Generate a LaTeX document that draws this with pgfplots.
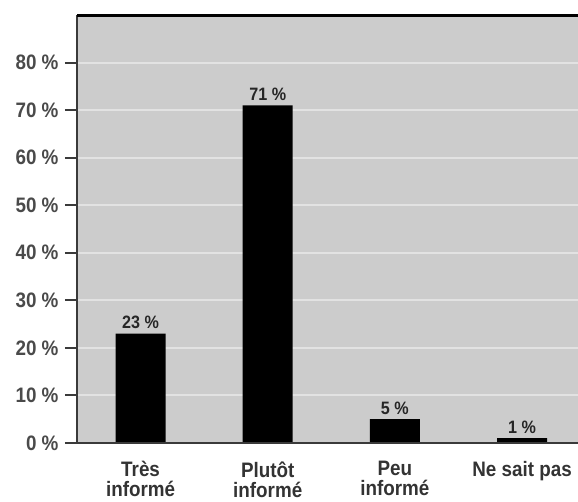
\documentclass[border=0pt]{standalone}
\usepackage{fontspec}
\setmainfont{Liberation Sans}[FakeStretch=0.9]
\usepackage{pgfplots}
\pgfplotsset{compat=1.18}
\definecolor{bg}{HTML}{CCCCCC}
\definecolor{grid}{HTML}{E2E2E2}
\definecolor{axisc}{HTML}{3A3A3A}
\definecolor{tickc}{HTML}{4A4A4A}
\begin{document}
\begin{tikzpicture}
\useasboundingbox (0,0) rectangle (578bp,502bp);
\begin{axis}[
  at={(77bp,59bp)}, anchor=south west,
  scale only axis, width=501bp, height=428bp,
  xmin=-0.5, xmax=3.44, ymin=0, ymax=90,
  axis background/.style={fill=bg},
  axis line style={draw=none},
  ytick={0,10,...,80},
  yticklabel={\pgfmathprintnumber{\tick}~\%},
  /pgf/number format/assume math mode=true,
  y tick label style={font=\bfseries\fontsize{21}{21}\selectfont, text=tickc, xshift=-3bp},
  ytick style={draw=axisc, line width=2bp},
  tick align=outside, major tick length=12bp,
  ymajorgrids, grid style={draw=grid, line width=2bp},
  xtick={0,1,2,3},
  xticklabels={Très\\informé, Plutôt\\informé, Peu\\informé, Ne sait pas},
  x tick label style={font=\bfseries\fontsize{21}{20}\selectfont, text=black!80, align=center, yshift=-3bp},
  xtick style={draw=none},
  ybar, bar width=50bp,
  nodes near coords={\pgfmathprintnumber{\pgfplotspointmeta}~\%},
  nodes near coords style={font=\bfseries\fontsize{18}{18}\selectfont, text=black!85, yshift=1bp},
  clip=false,
]
\addplot[fill=black, draw=none] coordinates {(0,23) (1,71) (2,5) (3,1)};
\draw[axisc, line width=2.5bp] (rel axis cs:0,0) -- (rel axis cs:1,0);
\draw[axisc, line width=2.5bp] (rel axis cs:0,0) -- (rel axis cs:0,1);
\draw[black, line width=3bp] (rel axis cs:0,1) -- (rel axis cs:1,1);
\end{axis}
\end{tikzpicture}
\end{document}
